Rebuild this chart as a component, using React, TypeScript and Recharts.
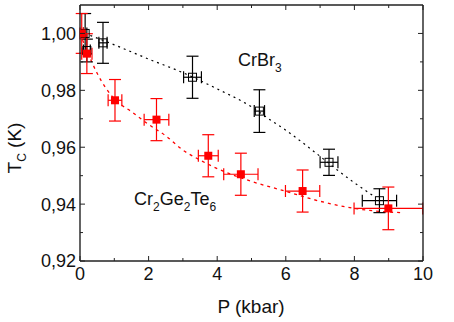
import React from 'react';
import { ComposedChart, Scatter, Line, XAxis, YAxis, ErrorBar } from 'recharts';

// CrBr3 (open squares)
const crbrP = [0.15, 0.2, 0.67, 3.28, 5.23, 7.26, 8.73];
const crbrTc = [1.0, 0.994, 0.9967, 0.9846, 0.9727, 0.9547, 0.9412];
const crbrPErr = [0.05, 0.1, 0.12, 0.26, 0.15, 0.26, 0.5];
const crbrTcErr = [0.007, 0.004, 0.0072, 0.0074, 0.0075, 0.0046, 0.0042];

// Cr2Ge2Te6 (filled squares)
const cgtP = [0.05, 0.2, 1.02, 2.23, 3.74, 4.69, 6.49, 8.99];
const cgtTc = [1.0, 0.9929, 0.9765, 0.9697, 0.957, 0.9505, 0.9446, 0.9385];
const cgtPErr = [0.05, 0.15, 0.2, 0.36, 0.29, 0.5, 0.5, 1.0];
const cgtTcErr = [0.007, 0.007, 0.0073, 0.0074, 0.0074, 0.0074, 0.0074, 0.0075];

// guide-to-the-eye curves
const crbrFitP = [0.3, 1, 2, 3, 4, 5, 5.5, 6, 6.5, 7, 7.5, 8, 8.6];
const crbrFitTc = [0.9993, 0.996, 0.991, 0.9862, 0.9805, 0.9742, 0.97, 0.966, 0.9615, 0.9568, 0.952, 0.9475, 0.9425];
const cgtFitP = [0, 0.2, 0.5, 1, 1.5, 2, 2.5, 3, 3.5, 4, 5, 6, 7, 8, 9, 9.4];
const cgtFitTc = [1.0, 0.994, 0.986, 0.977, 0.9725, 0.968, 0.964, 0.959, 0.9555, 0.9525, 0.948, 0.9445, 0.941, 0.9385, 0.9372, 0.937];

const xTicks = [0, 1, 2, 3, 4, 5, 6, 7, 8, 9, 10];
const yTicks = [0.92, 0.93, 0.94, 0.95, 0.96, 0.97, 0.98, 0.99, 1.0];

const crbrData = crbrP.map((p, i) => ({ x: p, y: crbrTc[i], ex: crbrPErr[i], ey: crbrTcErr[i] }));
const cgtData = cgtP.map((p, i) => ({ x: p, y: cgtTc[i], ex: cgtPErr[i], ey: cgtTcErr[i] }));
const crbrFit = crbrFitP.map((p, i) => ({ x: p, y: crbrFitTc[i] }));
const cgtFit = cgtFitP.map((p, i) => ({ x: p, y: cgtFitTc[i] }));

const FONT = 'Arial, "Liberation Sans", sans-serif';
const AXIS = '#222';
const RED = '#ff0000';

const isMajorX = (v: number) => Math.round(v) % 2 === 0;
const isMajorY = (v: number) => Math.round(v * 100) % 2 === 0;

const LeftTick = (props: any) => {
  const { x, y, payload } = props;
  const major = isMajorY(payload.value);
  const ax = x + 4;
  return (
    <g>
      <line x1={ax} x2={ax + (major ? 5 : 3)} y1={y} y2={y} stroke={AXIS} />
      {major && (
        <text x={x} y={y} dy="0.36em" textAnchor="end" fontSize={18} fontFamily={FONT} fill="#111">
          {payload.value.toFixed(2).replace('.', ',')}
        </text>
      )}
    </g>
  );
};

const RightTick = (props: any) => {
  const { x, y, payload } = props;
  const major = isMajorY(payload.value);
  return <line x1={x} x2={x - (major ? 5 : 3)} y1={y} y2={y} stroke={AXIS} />;
};

const BottomTick = (props: any) => {
  const { x, y, payload } = props;
  const major = isMajorX(payload.value);
  const ay = y - 6;
  return (
    <g>
      <line x1={x} x2={x} y1={ay} y2={ay - (major ? 5 : 3)} stroke={AXIS} />
      {major && (
        <text x={x} y={y} dy="0.71em" textAnchor="middle" fontSize={18} fontFamily={FONT} fill="#111">
          {payload.value}
        </text>
      )}
    </g>
  );
};

const TopTick = (props: any) => {
  const { x, y, payload } = props;
  const major = isMajorX(payload.value);
  return <line x1={x} x2={x} y1={y} y2={y + (major ? 5 : 3)} stroke={AXIS} />;
};

const FilledSquare = (props: any) => (
  <rect x={props.cx - 4} y={props.cy - 4} width={8} height={8} fill={RED} />
);
const OpenSquare = (props: any) => (
  <rect x={props.cx - 4} y={props.cy - 4} width={8} height={8} fill="none" stroke="#000" strokeWidth={1} />
);

export default function App() {
  return (
    <div style={{ position: 'absolute', left: 0, top: 0, width: 454, height: 322, background: '#fff' }}>
      <ComposedChart width={454} height={322} margin={{ top: 0, right: 0, bottom: 0, left: 0 }}>
        <XAxis
          xAxisId="b"
          type="number"
          dataKey="x"
          domain={[0, 10]}
          ticks={xTicks}
          interval={0}
          height={61}
          tickSize={0}
          tickMargin={6}
          tick={<BottomTick />}
          axisLine={{ stroke: AXIS, strokeWidth: 1.4 }}
          allowDataOverflow
        />
        <XAxis
          xAxisId="t"
          orientation="top"
          type="number"
          dataKey="x"
          domain={[0, 10]}
          ticks={xTicks}
          interval={0}
          height={5}
          tickSize={0}
          tickMargin={0}
          tick={<TopTick />}
          axisLine={{ stroke: AXIS, strokeWidth: 1.4 }}
          allowDataOverflow
        />
        <YAxis
          yAxisId="l"
          type="number"
          dataKey="y"
          domain={[0.92, 1.01]}
          ticks={yTicks}
          interval={0}
          width={80}
          tickSize={0}
          tickMargin={4}
          tick={<LeftTick />}
          axisLine={{ stroke: AXIS, strokeWidth: 1.4 }}
          allowDataOverflow
        />
        <YAxis
          yAxisId="r"
          orientation="right"
          type="number"
          dataKey="y"
          domain={[0.92, 1.01]}
          ticks={yTicks}
          interval={0}
          width={31}
          tickSize={0}
          tickMargin={0}
          tick={<RightTick />}
          axisLine={{ stroke: AXIS, strokeWidth: 1.4 }}
          allowDataOverflow
        />
        <Line
          xAxisId="b"
          yAxisId="l"
          data={crbrFit}
          dataKey="y"
          type="monotone"
          dot={false}
          stroke="#000"
          strokeWidth={1.2}
          strokeDasharray="2 4"
          isAnimationActive={false}
        />
        <Line
          xAxisId="b"
          yAxisId="l"
          data={cgtFit}
          dataKey="y"
          type="monotone"
          dot={false}
          stroke={RED}
          strokeWidth={1.3}
          strokeDasharray="3 4"
          isAnimationActive={false}
        />
        <Scatter xAxisId="b" yAxisId="l" data={crbrData} dataKey="y" shape={<OpenSquare />} isAnimationActive={false}>
          <ErrorBar dataKey="ey" direction="y" width={6} stroke="#000" strokeWidth={1.2} />
          <ErrorBar dataKey="ex" direction="x" width={6} stroke="#000" strokeWidth={1.2} />
        </Scatter>
        <Scatter xAxisId="b" yAxisId="l" data={cgtData} dataKey="y" shape={<FilledSquare />} isAnimationActive={false}>
          <ErrorBar dataKey="ey" direction="y" width={6} stroke={RED} strokeWidth={1.2} />
          <ErrorBar dataKey="ex" direction="x" width={6} stroke={RED} strokeWidth={1.2} />
        </Scatter>
      </ComposedChart>
      <svg
        width={454}
        height={322}
        style={{ position: 'absolute', left: 0, top: 0, pointerEvents: 'none' }}
        fontFamily={FONT}
        fill="#111"
      >
        <text transform="translate(21,148) rotate(-90)" textAnchor="middle" fontSize={19}>
          T<tspan fontSize={12} dy={5}>C</tspan>
          <tspan dy={-5}> (K)</tspan>
        </text>
        <text x={251} y={313} textAnchor="middle" fontSize={19}>P (kbar)</text>
        <text x={238} y={66} fontSize={18}>
          CrBr<tspan fontSize={12} dy={6}>3</tspan>
        </text>
        <text x={134} y={205} fontSize={18}>
          Cr<tspan fontSize={12} dy={6}>2</tspan>
          <tspan dy={-6}>Ge</tspan>
          <tspan fontSize={12} dy={6}>2</tspan>
          <tspan dy={-6}>Te</tspan>
          <tspan fontSize={12} dy={6}>6</tspan>
        </text>
      </svg>
    </div>
  );
}
